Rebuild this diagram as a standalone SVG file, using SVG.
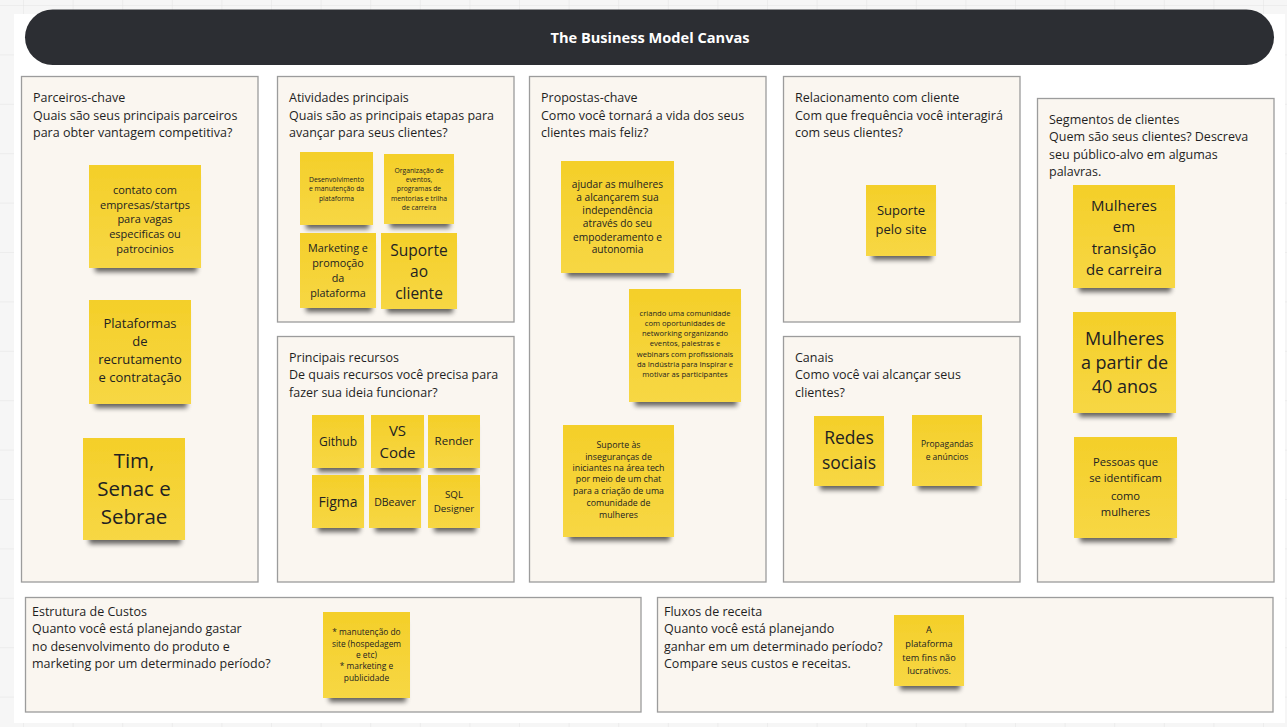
<svg xmlns="http://www.w3.org/2000/svg" width="1287" height="727" viewBox="0 0 1287 727">
<defs>
<pattern id="grid" x="23" y="5" width="49.6" height="49.4" patternUnits="userSpaceOnUse">
<path d="M0 0V49.4M0 0H49.6" fill="none" stroke="#e4e4e4" stroke-width="1"/>
</pattern>
<linearGradient id="yel" x1="0" y1="0" x2="0" y2="1">
<stop offset="0" stop-color="#f4cf29"/>
<stop offset="1" stop-color="#f7d744"/>
</linearGradient>
<filter id="sh" x="-20%" y="-20%" width="140%" height="150%">
<feMorphology in="SourceAlpha" operator="erode" radius="5 3"/>
<feOffset dx="1" dy="7"/>
<feGaussianBlur stdDeviation="2.8"/>
<feComponentTransfer><feFuncA type="linear" slope="0.6"/></feComponentTransfer>
<feMerge><feMergeNode/><feMergeNode in="SourceGraphic"/></feMerge>
</filter>
<style>
.box{fill:#faf6f0;stroke:#9c9c9c;stroke-width:1.3}
.bt{font-family:"Open Sans","Noto Sans","Liberation Sans",sans-serif;font-size:12.5px;fill:#1f1f1f}
.st{fill:url(#yel);filter:url(#sh)}
.s{font-family:"Open Sans","Noto Sans","Liberation Sans",sans-serif;fill:#222;text-anchor:middle}
</style>
</defs>
<rect width="1287" height="727" fill="#f6f6f6"/>
<rect width="1287" height="727" fill="url(#grid)"/>
<rect x="14" y="14" width="1271" height="709" fill="#ffffff"/>
<g id="header">
<rect x="25" y="9.5" width="1249" height="55.5" rx="27.75" fill="#2c2e33"/>
<text x="650" y="43" font-family="'Open Sans','Noto Sans','Liberation Sans',sans-serif" font-size="14.6" font-weight="bold" fill="#ffffff" text-anchor="middle">The Business Model Canvas</text>
</g>
<g id="connectors"></g>

<g id="box-parceiros">
<rect class="box" x="21.5" y="76.5" width="236.5" height="505.5"/>
<text class="bt" x="33"><tspan x="33" y="101.5">Parceiros-chave</tspan><tspan x="33" y="119.5">Quais são seus principais parceiros</tspan><tspan x="33" y="136.5">para obter vantagem competitiva?</tspan></text>
</g>
<g id="box-atividades">
<rect class="box" x="277.5" y="76.5" width="236.5" height="245.5"/>
<text class="bt"><tspan x="289" y="101.5">Atividades principais</tspan><tspan x="289" y="119.5">Quais são as principais etapas para</tspan><tspan x="289" y="136.5">avançar para seus clientes?</tspan></text>
</g>
<g id="box-recursos">
<rect class="box" x="277.5" y="336.5" width="236.5" height="245.5"/>
<text class="bt"><tspan x="289" y="361.5">Principais recursos</tspan><tspan x="289" y="379">De quais recursos você precisa para</tspan><tspan x="289" y="396.5">fazer sua ideia funcionar?</tspan></text>
</g>
<g id="box-propostas">
<rect class="box" x="529.5" y="76.5" width="236.5" height="505.5"/>
<text class="bt"><tspan x="541" y="101.5">Propostas-chave</tspan><tspan x="541" y="119.5">Como você tornará a vida dos seus</tspan><tspan x="541" y="136.5">clientes mais feliz?</tspan></text>
</g>
<g id="box-relacionamento">
<rect class="box" x="783.5" y="76.5" width="236.5" height="245.5"/>
<text class="bt"><tspan x="795" y="101.5">Relacionamento com cliente</tspan><tspan x="795" y="119.5">Com que frequência você interagirá</tspan><tspan x="795" y="136.5">com seus clientes?</tspan></text>
</g>
<g id="box-canais">
<rect class="box" x="783.5" y="336.5" width="236.5" height="245.5"/>
<text class="bt"><tspan x="795" y="361.5">Canais</tspan><tspan x="795" y="379">Como você vai alcançar seus</tspan><tspan x="795" y="396.5">clientes?</tspan></text>
</g>
<g id="box-segmentos">
<rect class="box" x="1037.5" y="98.5" width="236.5" height="483.5"/>
<text class="bt"><tspan x="1049" y="123.5">Segmentos de clientes</tspan><tspan x="1049" y="141">Quem são seus clientes? Descreva</tspan><tspan x="1049" y="158.5">seu público-alvo em algumas</tspan><tspan x="1049" y="176">palavras.</tspan></text>
</g>
<g id="box-custos">
<rect class="box" x="25.5" y="597.5" width="615.5" height="114.5"/>
<text class="bt"><tspan x="32" y="615.5">Estrutura de Custos</tspan><tspan x="32" y="633">Quanto você está planejando gastar</tspan><tspan x="32" y="650.5">no desenvolvimento do produto e</tspan><tspan x="32" y="668">marketing por um determinado período?</tspan></text>
</g>
<g id="box-receita">
<rect class="box" x="657.5" y="597.5" width="615.5" height="114.5"/>
<text class="bt"><tspan x="664" y="615.5">Fluxos de receita</tspan><tspan x="664" y="633">Quanto você está planejando</tspan><tspan x="664" y="650.5">ganhar em um determinado período?</tspan><tspan x="664" y="668">Compare seus custos e receitas.</tspan></text>
</g>

<!-- Parceiros stickies -->
<g id="n-contato">
<rect class="st" x="89" y="165" width="112" height="103"/>
<text class="s" font-size="11"><tspan x="145" y="194">contato com</tspan><tspan x="145" y="208.5">empresas/startps</tspan><tspan x="145" y="223">para vagas</tspan><tspan x="145" y="238">especificas ou</tspan><tspan x="145" y="252.5">patrocinios</tspan></text>
</g>
<g id="n-plataformas">
<rect class="st" x="89" y="300" width="102" height="104"/>
<text class="s" font-size="13"><tspan x="140" y="328">Plataformas</tspan><tspan x="140" y="346">de</tspan><tspan x="140" y="364">recrutamento</tspan><tspan x="140" y="382">e contratação</tspan></text>
</g>
<g id="n-tim">
<rect class="st" x="83" y="438" width="102" height="102"/>
<text class="s" font-size="20.5"><tspan x="134" y="468">Tim,</tspan><tspan x="134" y="496">Senac e</tspan><tspan x="134" y="524">Sebrae</tspan></text>
</g>

<!-- Atividades stickies -->
<g id="n-desenv">
<rect class="st" x="300" y="152" width="73" height="73"/>
<text class="s" font-size="6.8"><tspan x="336.5" y="181.5">Desenvolvimento</tspan><tspan x="336.5" y="191">e manutenção da</tspan><tspan x="336.5" y="200.5">plataforma</tspan></text>
</g>
<g id="n-organizacao">
<rect class="st" x="384" y="154" width="70" height="70"/>
<text class="s" font-size="6.8"><tspan x="419" y="172.5">Organização de</tspan><tspan x="419" y="181.5">eventos,</tspan><tspan x="419" y="191">programas de</tspan><tspan x="419" y="200.5">mentorias e trilha</tspan><tspan x="419" y="210">de carreira</tspan></text>
</g>
<g id="n-marketing">
<rect class="st" x="300" y="233" width="76" height="75"/>
<text class="s" font-size="10.8"><tspan x="338" y="252">Marketing e</tspan><tspan x="338" y="267">promoção</tspan><tspan x="338" y="282">da</tspan><tspan x="338" y="296.5">plataforma</tspan></text>
</g>
<g id="n-suporte-cliente">
<rect class="st" x="381" y="233" width="76" height="76"/>
<text class="s" font-size="15.5"><tspan x="419" y="255.5">Suporte</tspan><tspan x="419" y="277">ao</tspan><tspan x="419" y="298.5">cliente</tspan></text>
</g>

<!-- Recursos stickies -->
<g id="n-github">
<rect class="st" x="312" y="415" width="52" height="53"/>
<text class="s" font-size="12" x="338" y="445.5">Github</text>
</g>
<g id="n-vscode">
<rect class="st" x="371" y="415" width="53" height="53"/>
<text class="s" font-size="15"><tspan x="397.5" y="435.5">VS</tspan><tspan x="397.5" y="458">Code</tspan></text>
</g>
<g id="n-render">
<rect class="st" x="428" y="415" width="52" height="53"/>
<text class="s" font-size="11.5" x="454" y="445">Render</text>
</g>
<g id="n-figma">
<rect class="st" x="312" y="475" width="52" height="53"/>
<text class="s" font-size="14" x="338" y="507">Figma</text>
</g>
<g id="n-dbeaver">
<rect class="st" x="369" y="475" width="52" height="53"/>
<text class="s" font-size="10.5" x="395" y="506">DBeaver</text>
</g>
<g id="n-sql">
<rect class="st" x="428" y="475" width="52" height="53"/>
<text class="s" font-size="9.8"><tspan x="454" y="497.5">SQL</tspan><tspan x="454" y="511.5">Designer</tspan></text>
</g>

<!-- Propostas stickies -->
<g id="n-ajudar">
<rect class="st" x="561" y="161" width="113" height="112"/>
<text class="s" font-size="10.2"><tspan x="617.5" y="187.5">ajudar as mulheres</tspan><tspan x="617.5" y="201">a alcançarem sua</tspan><tspan x="617.5" y="214">independência</tspan><tspan x="617.5" y="227">através do seu</tspan><tspan x="617.5" y="240.5">empoderamento e</tspan><tspan x="617.5" y="253">autonomia</tspan></text>
</g>
<g id="n-comunidade">
<rect class="st" x="629" y="289" width="112" height="113"/>
<text class="s" font-size="7.6"><tspan x="685" y="316">criando uma comunidade</tspan><tspan x="685" y="326">com oportunidades de</tspan><tspan x="685" y="336">networking organizando</tspan><tspan x="685" y="346">eventos, palestras e</tspan><tspan x="685" y="356.5">webinars com profissionais</tspan><tspan x="685" y="366.5">da Indústria para Inspirar e</tspan><tspan x="685" y="376.5">motivar as participantes</tspan></text>
</g>
<g id="n-inseguranca">
<rect class="st" x="563" y="425" width="111" height="112"/>
<text class="s" font-size="8.8"><tspan x="618.5" y="448">Suporte às</tspan><tspan x="618.5" y="459.5">inseguranças de</tspan><tspan x="618.5" y="470.5">iniciantes na área tech</tspan><tspan x="618.5" y="482">por meio de um chat</tspan><tspan x="618.5" y="494">para a criação de uma</tspan><tspan x="618.5" y="506">comunidade de</tspan><tspan x="618.5" y="518">mulheres</tspan></text>
</g>

<!-- Relacionamento -->
<g id="n-suporte-site">
<rect class="st" x="866" y="185" width="70" height="71"/>
<text class="s" font-size="13"><tspan x="901" y="214.5">Suporte</tspan><tspan x="901" y="233.5">pelo site</tspan></text>
</g>

<!-- Canais -->
<g id="n-redes">
<rect class="st" x="814" y="416" width="70" height="70"/>
<text class="s" font-size="17.5"><tspan x="849" y="443.5">Redes</tspan><tspan x="849" y="469">sociais</tspan></text>
</g>
<g id="n-propagandas">
<rect class="st" x="912" y="415" width="70" height="71"/>
<text class="s" font-size="8.5"><tspan x="947" y="447">Propagandas</tspan><tspan x="947" y="460">e anúncios</tspan></text>
</g>

<!-- Segmentos -->
<g id="n-transicao">
<rect class="st" x="1073" y="185" width="102" height="103"/>
<text class="s" font-size="15"><tspan x="1124" y="210.5">Mulheres</tspan><tspan x="1124" y="232">em</tspan><tspan x="1124" y="253.5">transição</tspan><tspan x="1124" y="275">de carreira</tspan></text>
</g>
<g id="n-40anos">
<rect class="st" x="1073" y="312" width="103" height="101"/>
<text class="s" font-size="18"><tspan x="1124.5" y="344.5">Mulheres</tspan><tspan x="1124.5" y="368.5">a partir de</tspan><tspan x="1124.5" y="392.5">40 anos</tspan></text>
</g>
<g id="n-identificam">
<rect class="st" x="1074" y="437" width="103" height="101"/>
<text class="s" font-size="11.2"><tspan x="1125.5" y="466">Pessoas que</tspan><tspan x="1125.5" y="482">se identificam</tspan><tspan x="1125.5" y="499.5">como</tspan><tspan x="1125.5" y="515.5">mulheres</tspan></text>
</g>

<!-- Custos -->
<g id="n-custos">
<rect class="st" x="323" y="612" width="87" height="86"/>
<text class="s" font-size="8.4"><tspan x="366.5" y="635">* manutenção do</tspan><tspan x="366.5" y="646.5">site (hospedagem</tspan><tspan x="366.5" y="658">e etc)</tspan><tspan x="366.5" y="669">* marketing e</tspan><tspan x="366.5" y="680.5">publicidade</tspan></text>
</g>

<!-- Receita -->
<g id="n-receita">
<rect class="st" x="894" y="615" width="70" height="71"/>
<text class="s" font-size="9.2"><tspan x="929" y="632.5">A</tspan><tspan x="929" y="646.5">plataforma</tspan><tspan x="929" y="660.5">tem fins não</tspan><tspan x="929" y="674">lucrativos.</tspan></text>
</g>
</svg>
